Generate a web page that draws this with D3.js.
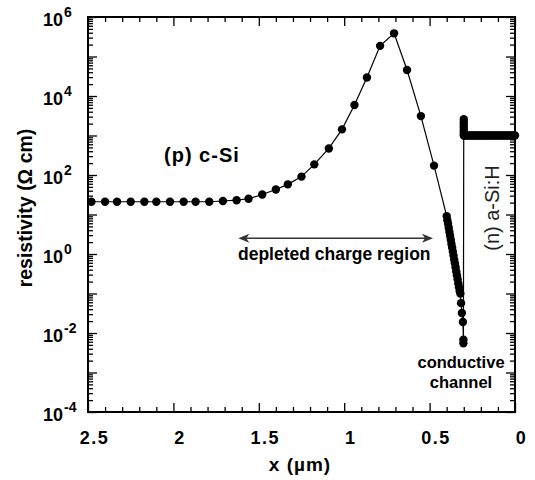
<!DOCTYPE html>
<html>
<head>
<meta charset="utf-8">
<script src="https://cdn.jsdelivr.net/npm/d3@7"></script>
<style>
body { margin: 0; background: #fff; }
svg { display: block; font-family: "Liberation Sans", Arial, sans-serif; }
.tick line { stroke: #000; stroke-width: 1.3; }
</style>
</head>
<body>
<div id="chart"></div>
<script>
// p-type c-Si profile (x in um, resistivity in ohm cm)
var cSiX = [2.48, 2.40, 2.33, 2.25, 2.17, 2.10, 2.02, 1.94, 1.87, 1.79, 1.71, 1.63, 1.56, 1.48, 1.40, 1.33, 1.25,
    1.175, 1.09, 1.013, 0.94, 0.867, 0.79, 0.708, 0.632, 0.551, 0.474,
    0.400, 0.396, 0.392, 0.388, 0.384, 0.380, 0.376, 0.372, 0.368, 0.364, 0.360,
    0.356, 0.352, 0.348, 0.344, 0.340, 0.336, 0.332, 0.328, 0.324, 0.320,
    0.316, 0.311, 0.305, 0.302, 0.302];
var cSiRes = [21, 21, 21, 21, 21, 21, 21, 21, 21, 21, 22, 23, 25, 32, 43, 58, 91,
    186, 470, 1430, 5900, 29500, 186000, 386000, 45500, 3100, 173,
    9.1, 7.2, 5.8, 4.6, 3.6, 2.9, 2.3, 1.8, 1.45, 1.15, 0.91,
    0.72, 0.58, 0.46, 0.36, 0.29, 0.23, 0.18, 0.145, 0.115, 0.1,
    0.057, 0.032, 0.019, 0.0068, 0.0055];

// n-type a-Si:H layer
var aSiX = [0.300, 0.300, 0.300, 0.300, 0.300, 0.300, 0.300,
    0.29, 0.28, 0.27, 0.26, 0.25, 0.24, 0.23, 0.22, 0.21, 0.20,
    0.19, 0.18, 0.17, 0.16, 0.15, 0.14, 0.13, 0.12, 0.11, 0.10,
    0.09, 0.08, 0.07, 0.06, 0.05, 0.04, 0.03, 0.02, 0.01, 0.00];
var aSiRes = [2600, 2200, 1900, 1600, 1350, 1150, 1000,
    1000, 1000, 1000, 1000, 1000, 1000, 1000, 1000, 1000, 1000,
    1000, 1000, 1000, 1000, 1000, 1000, 1000, 1000, 1000, 1000,
    1000, 1000, 1000, 1000, 1000, 1000, 1000, 1000, 1000, 1000];

var xTickValues = [2.5, 2, 1.5, 1, 0.5, 0];
var yLabelExponents = [-4, -2, 0, 2, 4, 6];

var width = 535, height = 480;
// plot box (window.top is read-only, so no bare "top")
var plotL = 88, plotR = 515, plotT = 17, plotB = 412;

var svg = d3.select('#chart')
    .append('svg')
    .attr('width', width)
    .attr('height', height);

var x = d3.scaleLinear()
    .domain([2.5, 0])
    .range([plotL, plotR]);

var y = d3.scaleLog()
    .domain([1e-4, 1e6])
    .range([plotB, plotT]);

var decades = d3.range(-4, 7).map(function(e) { return Math.pow(10, e); });
var minorY = [];
d3.range(-4, 6).forEach(function(e) {
    for (var k = 2; k < 10; k++) minorY.push(k * Math.pow(10, e));
});
var minorX = d3.range(0, 26).map(function(i) { return i / 10; })
    .filter(function(v) { return Math.round(v * 10) % 5 !== 0; });

function addAxis(axis, tx, ty) {
    var g = svg.append('g')
        .attr('transform', 'translate(' + tx + ',' + ty + ')')
        .call(axis);
    g.select('.domain').remove();
    return g;
}

// ticks on all four sides, pointing in
addAxis(d3.axisBottom(x).tickValues(minorX).tickSize(-5).tickFormat(''), 0, plotB);
addAxis(d3.axisTop(x).tickValues(minorX).tickSize(-5).tickFormat(''), 0, plotT);
addAxis(d3.axisTop(x).tickValues(xTickValues).tickSize(-9).tickFormat(''), 0, plotT);
var xg = addAxis(d3.axisBottom(x).tickValues(xTickValues).tickSize(-9).tickFormat(d3.format('~g')), 0, plotB);
xg.selectAll('text')
    .attr('x', 6)
    .attr('y', 19)
    .attr('dy', '0.71em')
    .attr('fill', '#000')
    .style('font-size', '18px')
    .style('font-weight', 'bold')
    .style('letter-spacing', '1.5px')
    .style('font-family', '"Liberation Sans", Arial, sans-serif');

addAxis(d3.axisLeft(y).tickValues(minorY).tickSize(-5).tickFormat(''), plotL, 0);
addAxis(d3.axisLeft(y).tickValues(decades).tickSize(-9).tickFormat(''), plotL, 0);
addAxis(d3.axisRight(y).tickValues(minorY).tickSize(-5).tickFormat(''), plotR, 0);
addAxis(d3.axisRight(y).tickValues(decades).tickSize(-9).tickFormat(''), plotR, 0);

// y tick labels as 10^n
var yl = svg.append('g')
    .selectAll('text')
    .data(yLabelExponents)
    .enter()
    .append('text')
    .attr('x', 43)
    .attr('y', function(d) { return y(Math.pow(10, d)) + 9; })
    .attr('fill', '#000')
    .style('font-size', '18px')
    .style('font-weight', 'bold');
yl.append('tspan').text('10');
yl.append('tspan')
    .attr('dx', 1)
    .attr('dy', -9)
    .style('font-size', '14px')
    .text(function(d) { return d < 0 ? '-' + (-d) : d; });

// frame
svg.append('rect')
    .attr('x', plotL)
    .attr('y', plotT)
    .attr('width', plotR - plotL)
    .attr('height', plotB - plotT)
    .attr('fill', 'none')
    .attr('stroke', '#000')
    .attr('stroke-width', 2);

// data
var points = cSiX.map(function(v, i) { return [v, cSiRes[i]]; })
    .concat(aSiX.map(function(v, i) { return [v, aSiRes[i]]; }));

var line = d3.line()
    .x(function(d) { return x(d[0]); })
    .y(function(d) { return y(d[1]); });

svg.append('path')
    .datum(points)
    .attr('d', line)
    .attr('fill', 'none')
    .attr('stroke', '#000')
    .attr('stroke-width', 1.2);

svg.append('g')
    .selectAll('circle')
    .data(points)
    .enter()
    .append('circle')
    .attr('cx', function(d) { return x(d[0]); })
    .attr('cy', function(d) { return y(d[1]); })
    .attr('r', 4.2)
    .attr('fill', '#000');

// annotations
function label(txt, tx, ty, size, opts) {
    opts = opts || {};
    return svg.append('text')
        .attr('transform', 'translate(' + tx + ',' + ty + ')' + (opts.rotate ? ' rotate(' + opts.rotate + ')' : ''))
        .attr('text-anchor', opts.anchor || 'start')
        .attr('fill', opts.fill || '#000')
        .style('font-size', size + 'px')
        .style('font-weight', opts.weight || 'bold')
        .style('letter-spacing', opts.spacing || null)
        .text(txt);
}

label('(p) c-Si', 164, 162, 20, {spacing: '1px'});
label('(n) a-Si:H', 499, 208, 20, {rotate: -90, anchor: 'middle', weight: 'normal', fill: '#222'});
label('depleted charge region', 238, 260, 17.5);
label('conductive', 461, 368, 16.5, {anchor: 'middle'});
label('channel', 461, 388, 16.5, {anchor: 'middle'});
label('x (\u00b5m)', 300, 471, 19, {anchor: 'middle', spacing: '1px'});
label('resistivity (\u03a9 cm)', 32, 208, 19.5, {rotate: -90, anchor: 'middle'});

// double arrow across the depleted region
var arrowY = y(2.5), ax0 = x(1.62), ax1 = x(0.48);
svg.append('line')
    .attr('x1', ax0 + 4).attr('x2', ax1 - 4)
    .attr('y1', arrowY).attr('y2', arrowY)
    .attr('stroke', '#333')
    .attr('stroke-width', 1.5);
svg.append('path')
    .attr('d', 'M' + ax1 + ',' + arrowY + 'l-11,-4.5l3,4.5l-3,4.5z')
    .attr('fill', '#333');
svg.append('path')
    .attr('d', 'M' + ax0 + ',' + arrowY + 'l11,-4.5l-3,4.5l3,4.5z')
    .attr('fill', '#333');
</script>
</body>
</html>
